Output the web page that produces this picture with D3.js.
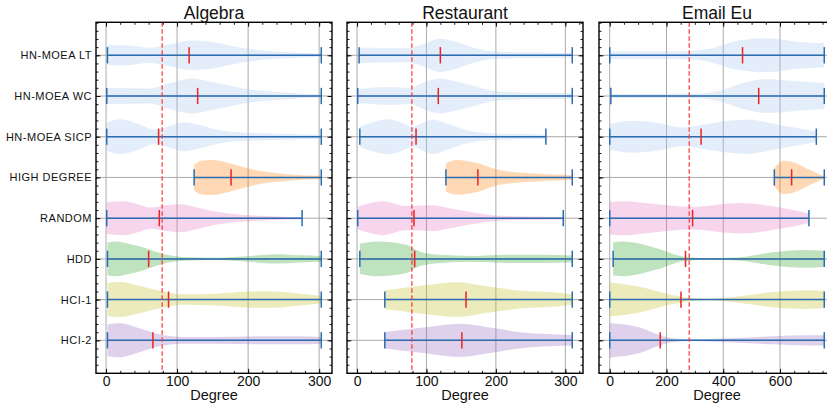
<!DOCTYPE html>
<html>
<head>
<meta charset="utf-8">
<script src="https://cdn.jsdelivr.net/npm/d3@7"></script>
<style>
  body { margin: 0; background: #fff; }
  svg { display: block; font-family: "Liberation Sans", Arial, sans-serif; }
</style>
</head>
<body>
<svg id="chart" width="827" height="405"></svg>
<script>
// ---- data ----
const methods = ["HN-MOEA LT", "HN-MOEA WC", "HN-MOEA SICP", "HIGH DEGREE", "RANDOM", "HDD", "HCI-1", "HCI-2"];
const datasets = ["Algebra", "Restaurant", "Email Eu"];
const meanDegree = [79, 79, 280];   // red dashed reference line

const algebraTicks = [0, 100, 200, 300];
const restaurantTicks = [0, 100, 200, 300];
const emailTicks = [0, 200, 400, 600];

const algebraMin = [2, 1, 1, 124, 1, 2, 2, 2];
const algebraMax = [303, 303, 303, 303, 276, 303, 303, 303];
const algebraMedian = [117, 129, 74, 176, 75, 60, 88, 66];
// [degree, relative density 0..100] along each violin
const algebraDensity = [
  [[2, 57], [30, 57], [60, 43], [90, 63], [120, 85], [150, 76], [180, 51], [210, 31], [240, 20], [270, 14], [303, 9]],
  [[1, 46], [30, 46], [60, 43], [90, 74], [120, 100], [150, 80], [180, 54], [210, 34], [240, 23], [270, 14], [303, 9]],
  [[1, 80], [20, 100], [45, 74], [70, 40], [90, 63], [110, 83], [130, 69], [160, 37], [200, 23], [250, 17], [303, 11]],
  [[124, 74], [135, 97], [150, 100], [170, 86], [190, 63], [210, 43], [230, 29], [260, 17], [303, 9]],
  [[1, 91], [24, 97], [45, 80], [62, 61], [85, 74], [104, 80], [130, 60], [156, 36], [180, 24], [203, 17], [240, 10], [276, 6]],
  [[2, 93], [15, 99], [30, 88], [48, 70], [76, 33], [100, 14], [130, 8], [156, 7], [180, 11], [203, 17], [240, 27], [273, 21], [303, 17]],
  [[2, 95], [20, 100], [45, 80], [76, 50], [109, 30], [156, 34], [203, 46], [226, 47], [250, 43], [273, 34], [303, 21]],
  [[2, 91], [20, 97], [48, 67], [76, 33], [109, 19], [156, 19], [226, 23], [273, 23], [303, 19]]
];

const restaurantMin = [3, 1, 4, 128, 1, 4, 40, 40];
const restaurantMax = [310, 310, 272, 310, 297, 310, 310, 310];
const restaurantMedian = [120, 117, 85, 174, 82, 83, 157, 151];
const restaurantDensity = [
  [[3, 44], [40, 41], [71, 40], [95, 63], [119, 95], [140, 80], [167, 44], [196, 21], [239, 17], [310, 15]],
  [[1, 40], [47, 51], [76, 46], [95, 74], [119, 100], [140, 86], [167, 59], [200, 27], [250, 19], [310, 17]],
  [[4, 57], [20, 80], [45, 100], [65, 80], [80, 57], [95, 80], [109, 99], [130, 74], [157, 38], [196, 19], [272, 13]],
  [[128, 80], [143, 99], [160, 93], [176, 80], [190, 60], [205, 42], [239, 27], [287, 17], [310, 13]],
  [[1, 65], [37, 97], [71, 69], [90, 71], [109, 74], [130, 60], [157, 40], [196, 17], [240, 10], [297, 7]],
  [[4, 86], [28, 99], [71, 80], [90, 42], [119, 23], [167, 17], [215, 23], [263, 23], [310, 19]],
  [[40, 53], [71, 69], [110, 88], [143, 99], [191, 73], [239, 50], [287, 40], [310, 29]],
  [[40, 47], [95, 73], [148, 95], [196, 70], [239, 44], [287, 33], [310, 29]]
];

const emailMin = [0, 4, 0, 580, 0, 12, 0, 0];
const emailMax = [756, 756, 728, 756, 702, 756, 756, 756];
const emailMedian = [468, 525, 322, 641, 292, 267, 251, 178];
const emailDensity = [
  [[0, 21], [150, 21], [259, 23], [341, 34], [435, 78], [553, 97], [659, 78], [756, 69]],
  [[4, 11], [150, 13], [318, 14], [400, 36], [470, 74], [553, 97], [659, 84], [756, 74]],
  [[0, 73], [82, 91], [165, 80], [259, 53], [341, 73], [482, 99], [600, 67], [728, 29]],
  [[580, 51], [612, 95], [659, 80], [706, 42], [756, 7]],
  [[0, 93], [47, 97], [165, 80], [282, 65], [459, 87], [600, 61], [702, 27]],
  [[12, 95], [47, 99], [165, 61], [259, 13], [341, 4], [459, 10], [576, 38], [682, 51], [756, 47]],
  [[0, 97], [106, 73], [224, 25], [341, 4], [459, 19], [576, 44], [694, 53], [756, 50]],
  [[0, 99], [106, 73], [188, 23], [282, 4], [400, 10], [576, 23], [694, 29], [756, 29]]
];

const bodyColors = ["#a6c8f2", "#a6c8f2", "#a6c8f2", "#ff7f0e", "#e377c2", "#2ca02c", "#bcbd22", "#9467bd"];

// ---- layout ----
var svg = d3.select("#chart");
var panelLeft = [96, 347, 599],
    panelWidth = 236,
    plotTop = 22.3,
    plotBottom = 373.3;

var panels = [
  { name: datasets[0], min: algebraMin, max: algebraMax, median: algebraMedian, density: algebraDensity, ticks: algebraTicks, minor: 20 },
  { name: datasets[1], min: restaurantMin, max: restaurantMax, median: restaurantMedian, density: restaurantDensity, ticks: restaurantTicks, minor: 20 },
  { name: datasets[2], min: emailMin, max: emailMax, median: emailMedian, density: emailDensity, ticks: emailTicks, minor: 50 }
];

var y = d3.scaleLinear().domain([0.19, 8.81]).range([plotTop, plotBottom]);
var rowUnit = y(2) - y(1);
var halfWidth = d3.scaleLinear().domain([0, 100]).range([0, rowUnit * 0.43]);
var capHalf = rowUnit * 0.2;

panels.forEach(function(p, k) {
  var left = panelLeft[k];
  var lo = d3.min(p.min), hi = d3.max(p.max), pad = (hi - lo) * 0.05;
  var x = d3.scaleLinear().domain([lo - pad, hi + pad]).range([left, left + panelWidth]);

  var g = svg.append("g").attr("class", "panel");

  // grid
  g.selectAll(".vgrid").data(p.ticks).join("line")
    .attr("x1", d => x(d)).attr("x2", d => x(d))
    .attr("y1", plotTop).attr("y2", plotBottom)
    .attr("stroke", "#aaaaaa").attr("stroke-width", 1);
  g.selectAll(".hgrid").data(methods).join("line")
    .attr("x1", left).attr("x2", left + panelWidth)
    .attr("y1", (d, i) => y(i + 1)).attr("y2", (d, i) => y(i + 1))
    .attr("stroke", "#aaaaaa").attr("stroke-width", 1);

  // violins
  methods.forEach(function(m, i) {
    var cy = y(i + 1);
    var area = d3.area()
      .x(d => x(d[0]))
      .y0(d => cy - halfWidth(d[1]))
      .y1(d => cy + halfWidth(d[1]))
      .curve(d3.curveMonotoneX);

    g.append("path")
      .datum(p.density[i])
      .attr("d", area)
      .attr("fill", bodyColors[i])
      .attr("fill-opacity", 0.3);

    // range line, caps, median
    g.append("line")
      .attr("x1", x(p.min[i])).attr("x2", x(p.max[i]))
      .attr("y1", cy).attr("y2", cy)
      .attr("stroke", "#2b6cb0").attr("stroke-width", 1.5);
    [p.min[i], p.max[i]].forEach(function(v) {
      g.append("line")
        .attr("x1", x(v)).attr("x2", x(v))
        .attr("y1", cy - capHalf).attr("y2", cy + capHalf)
        .attr("stroke", "#2b6cb0").attr("stroke-width", 1.5);
    });
    g.append("line")
      .attr("x1", x(p.median[i])).attr("x2", x(p.median[i]))
      .attr("y1", cy - capHalf).attr("y2", cy + capHalf)
      .attr("stroke", "#ee2222").attr("stroke-width", 1.5);
  });

  // mean degree
  g.append("line")
    .attr("x1", x(meanDegree[k])).attr("x2", x(meanDegree[k]))
    .attr("y1", plotTop).attr("y2", plotBottom)
    .attr("stroke", "#ff3333").attr("stroke-width", 1.2)
    .attr("stroke-dasharray", "4.5,2.5");

  // ticks, all pointing inwards: [axis, translate, font size]
  var minorX = d3.range(0, hi + pad, p.minor);
  var minorY = d3.range(0.2, 8.81, 0.2);
  var axes = [
    [d3.axisBottom(x).tickValues(p.ticks).tickSizeInner(-4.5).tickPadding(2.5), [0, plotBottom], "14px"],
    [d3.axisBottom(x).tickValues(minorX).tickSizeInner(-2.5).tickFormat(""), [0, plotBottom], null],
    [d3.axisTop(x).tickValues(p.ticks).tickSizeInner(-4.5).tickFormat(""), [0, plotTop], null],
    [d3.axisTop(x).tickValues(minorX).tickSizeInner(-2.5).tickFormat(""), [0, plotTop], null],
    [d3.axisLeft(y).tickValues(d3.range(1, 9)).tickSizeInner(-4.5).tickPadding(4)
        .tickFormat(d => k == 0 ? methods[d - 1] : ""), [left, 0], "11px"],
    [d3.axisLeft(y).tickValues(minorY).tickSizeInner(-2.5).tickFormat(""), [left, 0], null],
    [d3.axisRight(y).tickValues(d3.range(1, 9)).tickSizeInner(-4.5).tickFormat(""), [left + panelWidth, 0], null],
    [d3.axisRight(y).tickValues(minorY).tickSizeInner(-2.5).tickFormat(""), [left + panelWidth, 0], null]
  ];
  axes.forEach(function(a, n) {
    var ax = g.append("g")
      .attr("transform", "translate(" + a[1][0] + "," + a[1][1] + ")")
      .call(a[0].tickSizeOuter(0));
    ax.attr("font-family", null).attr("font-size", a[2]);
    ax.select(".domain").remove();
    ax.selectAll(".tick line").attr("stroke", "#000").attr("stroke-width", 0.9);
    ax.selectAll("text").attr("fill", "#111");
    if (n == 4) ax.selectAll("text").attr("letter-spacing", "0.5px");
  });

  // frame
  g.append("rect")
    .attr("x", left).attr("y", plotTop)
    .attr("width", panelWidth).attr("height", plotBottom - plotTop)
    .attr("fill", "none").attr("stroke", "#000").attr("stroke-width", 1.4);

  // titles
  g.append("text")
    .attr("x", left + panelWidth / 2).attr("y", 18.5)
    .attr("text-anchor", "middle")
    .attr("font-size", "17.5px").attr("fill", "#111")
    .text(p.name);
  g.append("text")
    .attr("x", left + panelWidth / 2).attr("y", 400)
    .attr("text-anchor", "middle")
    .attr("font-size", "14.5px").attr("fill", "#111")
    .text("Degree");
});
</script>
</body>
</html>
